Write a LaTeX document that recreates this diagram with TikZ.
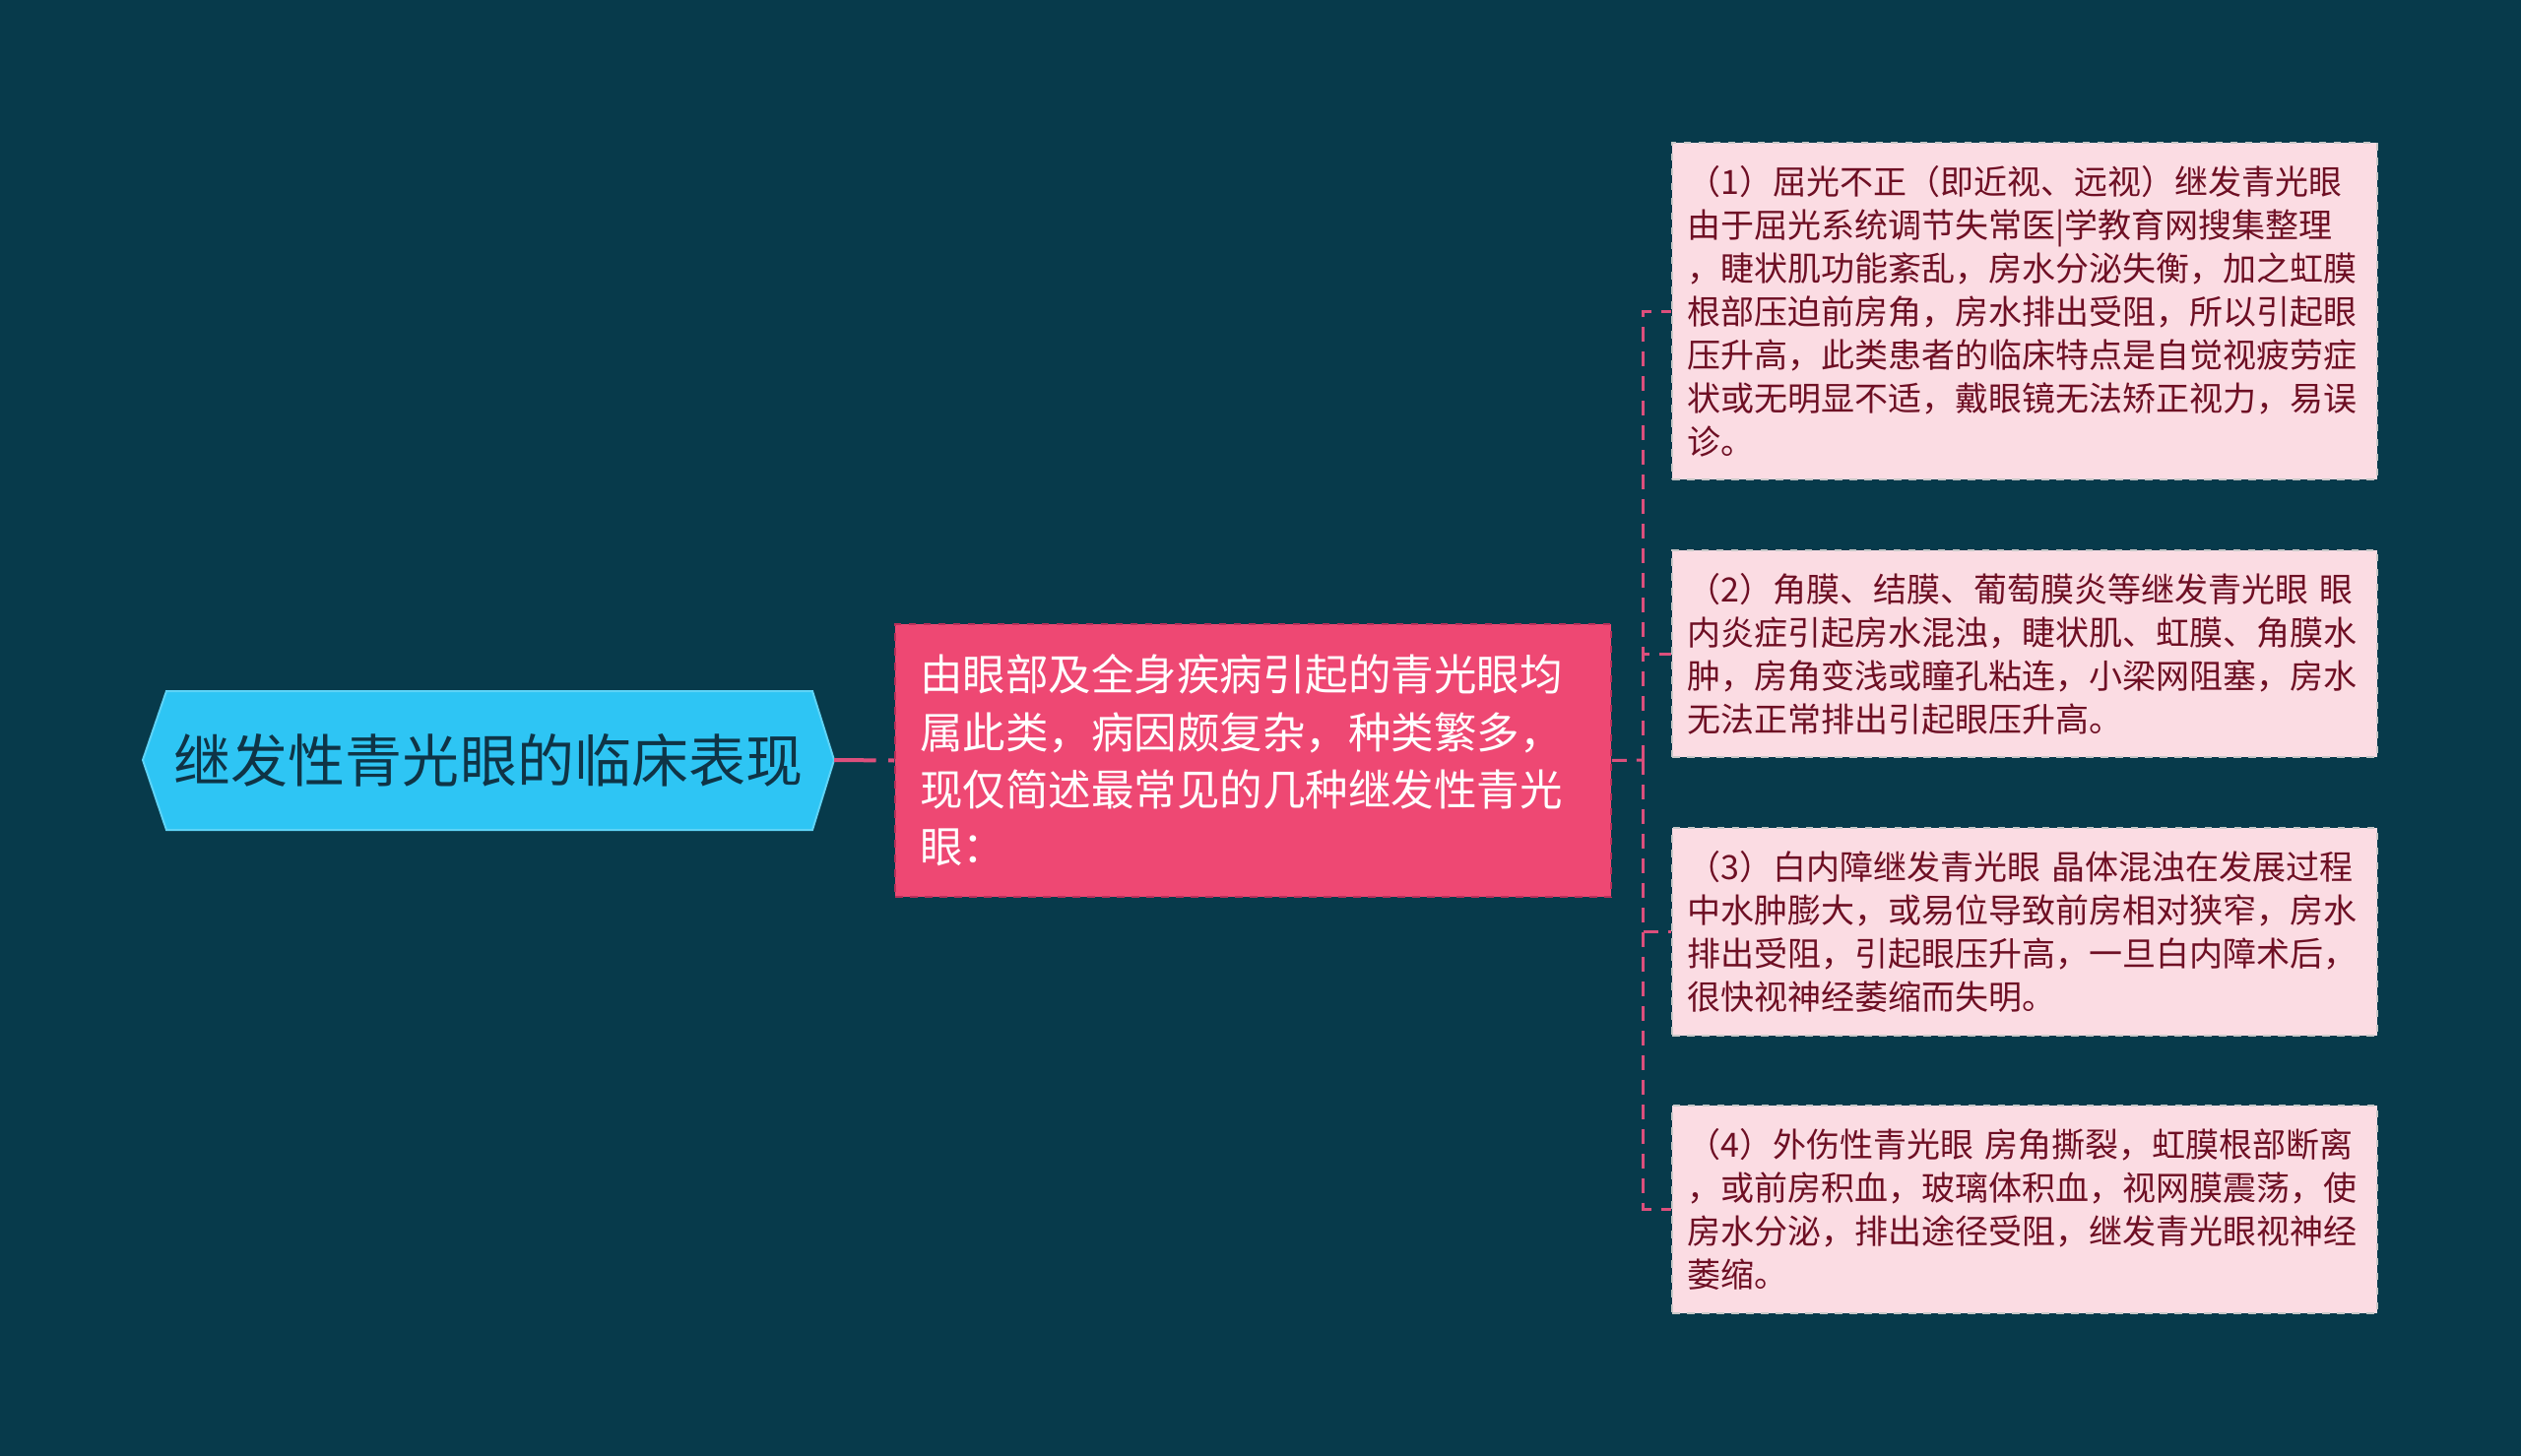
\documentclass[tikz,border=0pt]{standalone}
\usepackage{fontspec}
\newfontfamily\cjk{Noto Sans CJK SC}
\definecolor{bgc}{HTML}{073A4B}
\definecolor{rootfill}{HTML}{2EC5F4}
\definecolor{rootedge}{HTML}{5ED3F6}
\definecolor{roottxt}{HTML}{0F3446}
\definecolor{midfill}{HTML}{EE4873}
\definecolor{midedge}{HTML}{B9305A}
\definecolor{leaffill}{HTML}{FBDCE3}
\definecolor{leafedge}{HTML}{C8C8C8}
\definecolor{leaftxt}{HTML}{6E0F24}
\definecolor{linkc}{HTML}{DC4F7C}
\tikzset{
  rootshape/.style={fill=rootfill, draw=rootedge, line width=0.8pt},
  roottext/.style={font=\cjk\fontsize{23.2pt}{28pt}\selectfont, text=roottxt, inner sep=0pt},
  midbox/.style={fill=midfill, draw=midedge, dashed, line width=0.6pt,
    minimum width=290.8pt, minimum height=110.8pt, inner xsep=10pt, text width=270.8pt,
    align=left, text=white, font=\cjk\fontsize{17.4pt}{23.3pt}\selectfont},
  leafbox/.style={fill=leaffill, draw=leafedge, dashed, line width=0.6pt,
    minimum width=286.4pt, inner xsep=6.2pt, text width=274pt,
    align=left, text=leaftxt, font=\cjk\fontsize{13.6pt}{17.6pt}\selectfont},
  rootlink/.style={draw=linkc, line width=1.6pt, dash pattern=on 17pt off 5pt},
  link/.style={draw=linkc, line width=1.2pt, dash pattern=on 6pt off 4pt}
}
\begin{document}
\begin{tikzpicture}[x=0.4pt,y=-0.4pt]
\fill[bgc] (0,0) rectangle (2560,1479);
\useasboundingbox (0,0) rectangle (2560,1479);

% root hexagon
\filldraw[rootshape] (145,772) -- (169,702) -- (825,702) -- (847,772) -- (825,843) -- (169,843) -- cycle;
\node[roottext] (root) at (496,772) {继发性青光眼的临床表现};
\coordinate (rootE) at (847,772);

% middle node
\node[midbox] (mid) at (1272.5,772.5) {由眼部及全身疾病引起的青光眼均\\属此类，病因颇复杂，种类繁多，\\现仅简述最常见的几种继发性青光\\眼：};

% leaves
\node[leafbox, minimum height=136.8pt] (l1) at (2056,316) {（1）屈光不正（即近视、远视）继发青光眼\\由于屈光系统调节失常医|学教育网搜集整理\\，睫状肌功能紊乱，房水分泌失衡，加之虹膜\\根部压迫前房角，房水排出受阻，所以引起眼\\压升高，此类患者的临床特点是自觉视疲劳症\\状或无明显不适，戴眼镜无法矫正视力，易误\\诊。};
\node[leafbox, minimum height=84pt] (l2) at (2056,664) {（2）角膜、结膜、葡萄膜炎等继发青光眼 眼\\内炎症引起房水混浊，睫状肌、虹膜、角膜水\\肿，房角变浅或瞳孔粘连，小梁网阻塞，房水\\无法正常排出引起眼压升高。};
\node[leafbox, minimum height=84.4pt] (l3) at (2056,946.5) {（3）白内障继发青光眼 晶体混浊在发展过程\\中水肿膨大，或易位导致前房相对狭窄，房水\\排出受阻，引起眼压升高，一旦白内障术后，\\很快视神经萎缩而失明。};
\node[leafbox, minimum height=84.4pt] (l4) at (2056,1228.5) {（4）外伤性青光眼 房角撕裂，虹膜根部断离\\，或前房积血，玻璃体积血，视网膜震荡，使\\房水分泌，排出途径受阻，继发青光眼视神经\\萎缩。};

% connectors
\draw[rootlink] (rootE) -- (mid.west);
\coordinate (tr) at (1668,772);
\draw[link] (mid.east) -- (tr);
\draw[link] (tr) |- (l1.west);
\draw[link] (tr) |- (l2.west);
\draw[link] (tr) |- (l3.west);
\draw[link] (tr) |- (l4.west);
\end{tikzpicture}
\end{document}
